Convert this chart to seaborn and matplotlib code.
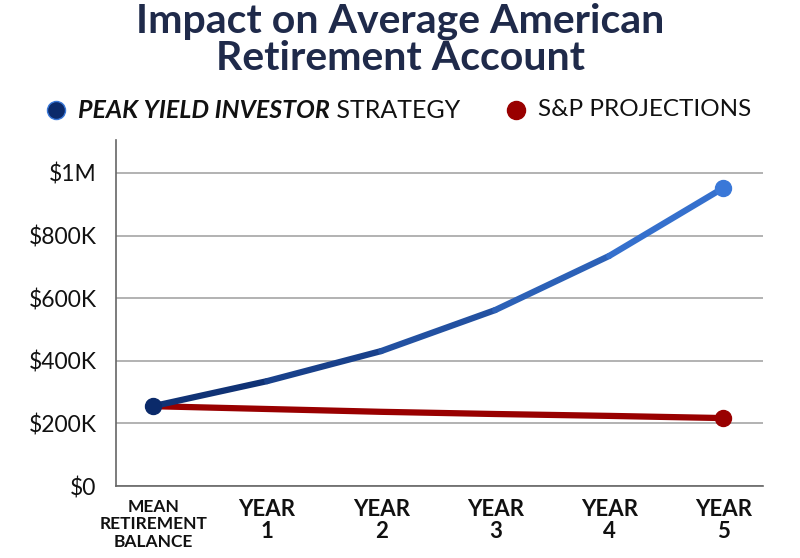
import matplotlib
matplotlib.use("Agg")
import matplotlib.pyplot as plt
import seaborn as sns
import numpy as np
import pandas as pd
from matplotlib.colors import LinearSegmentedColormap

# chart data
categories = ["MEAN\nRETIREMENT\nBALANCE", "YEAR\n1", "YEAR\n2", "YEAR\n3", "YEAR\n4", "YEAR\n5"]
peak_yield = [255000, 335000, 431000, 562000, 735000, 952000]
sp_projections = [255000, 246000, 237000, 230000, 224000, 217000]
y_ticks = [0, 200000, 400000, 600000, 800000, 1000000]
y_tick_labels = ["$0", "$200K", "$400K", "$600K", "$800K", "$1M"]

title = "Impact on Average American\nRetirement Account"
legend_bold = "PEAK YIELD INVESTOR"
legend_rest = " STRATEGY"
legend_sp = "S&P PROJECTIONS"

NAVY = "#0b2a6a"
LIGHT_BLUE = "#3a78d8"
RED = "#990000"
FONT = "Lato"

sns.set_theme(style="white")
plt.rcParams["font.family"] = [FONT, "DejaVu Sans"]

fig = plt.figure(figsize=(8, 5.58), dpi=100)
ax = fig.add_axes([0.145, 0.129, 0.809, 0.62])

df = pd.DataFrame({"x": np.arange(len(categories)), "peak": peak_yield, "sp": sp_projections})

# red line first, blue drawn on top
sns.lineplot(data=df, x="x", y="sp", ax=ax, color=RED, linewidth=4.5,
             solid_capstyle="round", zorder=3)
ax.plot(df["x"].iloc[-1], df["sp"].iloc[-1], "o", color=RED, markersize=11.5, zorder=4)

# blue line with a navy -> light blue gradient, segment by segment
cmap = LinearSegmentedColormap.from_list("pyi", [NAVY, LIGHT_BLUE])
n = len(df)
for i in range(n - 1):
    seg = df.iloc[i:i + 2]
    sns.lineplot(data=seg, x="x", y="peak", ax=ax, color=cmap((i + 0.5) / (n - 1)),
                 linewidth=4.5, solid_capstyle="round", zorder=5)
ax.plot(df["x"].iloc[0], df["peak"].iloc[0], "o", color=NAVY, markersize=11.5, zorder=6)
ax.plot(df["x"].iloc[-1], df["peak"].iloc[-1], "o", color=LIGHT_BLUE, markersize=11.5, zorder=6)

ax.set_xlim(-0.325, 5.35)
ax.set_ylim(0, 1105000)
ax.set_yticks(y_ticks)
ax.set_yticklabels(y_tick_labels, fontsize=16.5, color="#111111")
ax.set_xticks(df["x"])
ax.set_xticklabels(categories, fontsize=16, fontweight="bold", color="#111111",
                   linespacing=1.1, va="top")
ax.get_xticklabels()[0].set_fontsize(12.5)
ax.get_xticklabels()[0].set_linespacing(1.12)
ax.set_xlabel("")
ax.set_ylabel("")
ax.tick_params(axis="x", length=0, pad=9)
ax.tick_params(axis="y", length=0, pad=14)

ax.grid(axis="y", color="#a6a6a6", linewidth=1.2)
ax.set_axisbelow(True)
for side in ["top", "right"]:
    ax.spines[side].set_visible(False)
for side in ["left", "bottom"]:
    ax.spines[side].set_color("#666666")
    ax.spines[side].set_linewidth(1.2)

fig.text(0.5, 1 - 40 / 558, title, ha="center", va="center", fontsize=29.5, fontweight="bold",
         color="#1f2a4a", linespacing=1.0)

# legend, built by hand because of the mixed bold italic label
ly = 1 - 110 / 558
fig.lines.append(plt.Line2D([56 / 800], [ly], marker="o", markersize=13, color=NAVY,
                            markeredgecolor=LIGHT_BLUE, transform=fig.transFigure))
t1 = fig.text(78 / 800, ly, legend_bold, ha="left", va="center", fontsize=18,
              fontweight="bold", style="italic", color="#111111")
fig.canvas.draw()
bb = t1.get_window_extent()
fig.text(bb.x1 / fig.bbox.width, ly, legend_rest, ha="left", va="center", fontsize=18,
         color="#111111")
fig.lines.append(plt.Line2D([516 / 800], [ly], marker="o", markersize=13, color=RED,
                            transform=fig.transFigure))
fig.text(538 / 800, ly, legend_sp, ha="left", va="center", fontsize=17.5, color="#111111")

fig.savefig("out.png", dpi=100)
